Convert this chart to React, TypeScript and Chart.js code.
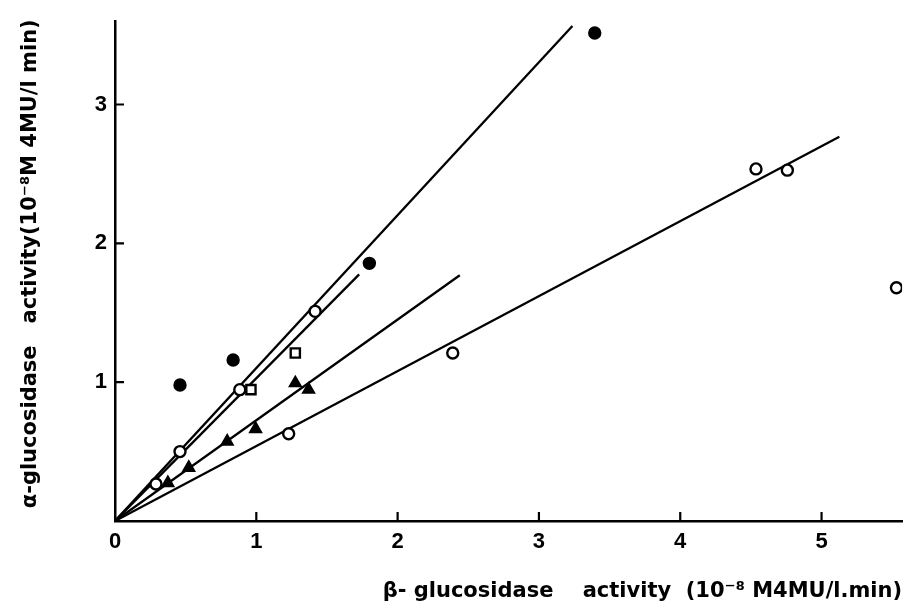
import React, { useEffect, useRef } from "react";
import { Chart, registerables } from "chart.js";

Chart.register(...registerables);

// β-glucosidase (x) vs α-glucosidase (y) activity
const filledCirclesX = [0.46, 0.836, 1.8, 3.395];
const filledCirclesY = [0.98, 1.16, 1.856, 3.515];

const openCirclesX = [0.29, 0.46, 0.883, 1.416, 1.229, 2.39, 4.536, 4.758, 5.53];
const openCirclesY = [0.267, 0.5, 0.946, 1.51, 0.628, 1.21, 2.536, 2.527, 1.68];

const openSquaresX = [0.962, 1.276];
const openSquaresY = [0.946, 1.21];

const trianglesX = [0.374, 0.522, 0.794, 0.995, 1.276, 1.37];
const trianglesY = [0.274, 0.384, 0.573, 0.663, 0.993, 0.946];

// regression lines, all starting at the origin: end points
const lineEndX = [3.237, 1.728, 2.44, 5.126];
const lineEndY = [3.565, 1.776, 1.77, 2.767];

const xTicks = [0, 1, 2, 3, 4, 5];
const yTicks = [1, 2, 3];

const xTitle = "β- glucosidase    activity  (10⁻⁸ M4MU/l.min)";
const yTitle = "  α-glucosidase   activity(10⁻⁸M 4MU/l min)";

const TICK_FONT = "'Liberation Sans', Arial, Helvetica, sans-serif";
const TITLE_FONT = "'DejaVu Sans', 'Liberation Sans', sans-serif";

const toPts = (xs: number[], ys: number[]) => xs.map((x, i) => ({ x, y: ys[i] }));

const inwardTicks = {
  id: "inwardTicks",
  afterDraw(chart: any) {
    const { ctx, chartArea, scales } = chart;
    ctx.save();
    ctx.strokeStyle = "#000";
    ctx.lineWidth = 2.2;
    ctx.beginPath();
    for (const v of yTicks) {
      const py = scales.y.getPixelForValue(v);
      ctx.moveTo(chartArea.left, py);
      ctx.lineTo(chartArea.left + 9, py);
    }
    for (const v of xTicks) {
      if (v === 0) continue;
      const px = scales.x.getPixelForValue(v);
      ctx.moveTo(px, chartArea.bottom);
      ctx.lineTo(px, chartArea.bottom - 9);
    }
    ctx.stroke();
    ctx.restore();
  },
};

export default function App() {
  const ref = useRef<HTMLCanvasElement | null>(null);

  useEffect(() => {
    if (!ref.current) return;
    const marker = (style: string, filled: boolean, r: number) => ({
      type: "scatter" as const,
      pointStyle: style,
      pointRadius: r,
      pointBorderWidth: 2.4,
      pointBorderColor: "#000",
      pointBackgroundColor: filled ? "#000" : "#fff",
      showLine: false,
    });
    const lines = lineEndX.map((ex, i) => ({
      type: "scatter" as const,
      data: [
        { x: 0, y: 0 },
        { x: ex, y: lineEndY[i] },
      ],
      showLine: true,
      borderColor: "#000",
      borderWidth: 2.3,
      pointRadius: 0,
      fill: false,
      order: 10,
    }));
    const chart = new Chart(ref.current, {
      type: "scatter",
      data: {
        datasets: [
          ...lines,
          { ...marker("circle", true, 5.5), data: toPts(filledCirclesX, filledCirclesY), order: 1 },
          { ...marker("circle", false, 5.5), data: toPts(openCirclesX, openCirclesY), order: 1 },
          { ...marker("rect", false, 6.5), data: toPts(openSquaresX, openSquaresY), order: 1 },
          { ...marker("triangle", true, 6), data: toPts(trianglesX, trianglesY), order: 1 },
        ] as any,
      },
      options: {
        animation: false,
        responsive: true,
        maintainAspectRatio: false,
        layout: { padding: { left: 0, right: 3, top: 13, bottom: 0 } },
        plugins: { legend: { display: false }, tooltip: { enabled: false } },
        scales: {
          x: {
            type: "linear",
            min: 0,
            max: 5.57,
            grid: { display: false, drawTicks: false },
            border: { display: true, color: "#000", width: 2.5 },
            ticks: {
              stepSize: 1,
              includeBounds: false,
              padding: 8,
              color: "#000",
              font: { family: TICK_FONT, size: 22, weight: "bold" },
              callback: (v: any) => String(v),
            },
            title: {
              display: true,
              text: xTitle,
              align: "end",
              color: "#000",
              padding: { top: 0, bottom: 7 },
              font: { family: TITLE_FONT, size: 21, weight: "bold" },
            },
            afterFit: (s: any) => {
              s.height = 90;
            },
          },
          y: {
            type: "linear",
            min: 0,
            max: 3.6,
            grid: { display: false, drawTicks: false },
            border: { display: true, color: "#000", width: 2.5 },
            ticks: {
              stepSize: 1,
              includeBounds: false,
              padding: 8,
              color: "#000",
              font: { family: TICK_FONT, size: 22, weight: "bold" },
              callback: (v: any) => (v === 0 ? "" : String(v)),
            },
            title: {
              display: true,
              text: yTitle,
              color: "#000",
              padding: { top: 18, bottom: 0 },
              font: { family: TITLE_FONT, size: 21, weight: "bold" },
            },
            afterFit: (s: any) => {
              s.width = 115;
            },
          },
        },
      } as any,
      plugins: [inwardTicks],
    });
    return () => chart.destroy();
  }, []);

  return (
    <div style={{ position: "fixed", left: 0, top: 0, width: 911, height: 611, background: "#fff" }}>
      <canvas ref={ref} />
    </div>
  );
}
